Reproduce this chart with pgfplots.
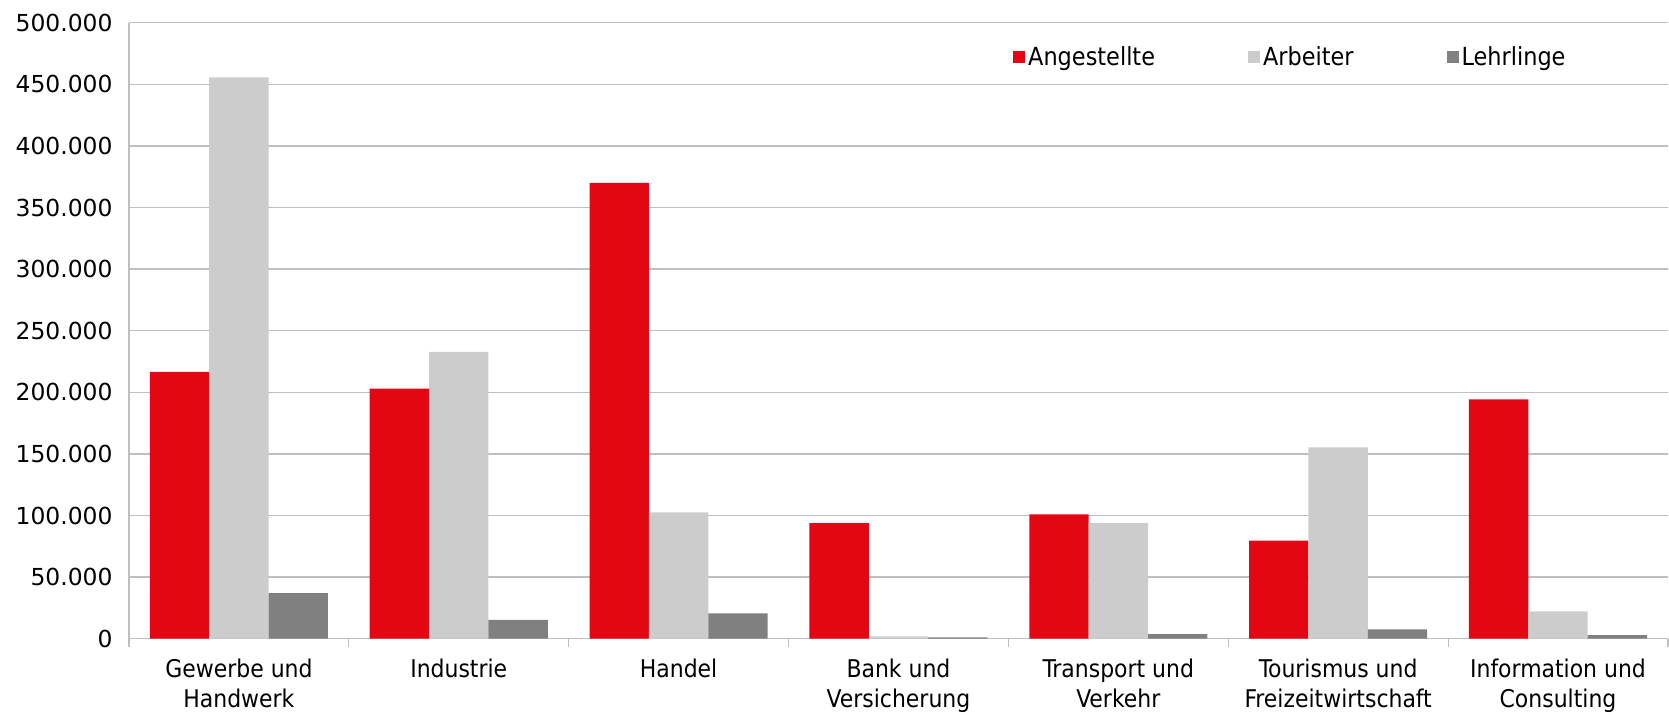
\documentclass[border=0pt]{standalone}
\usepackage{pgfplots}
\pgfplotsset{compat=1.18}
\usepackage{fontspec}
\setmainfont{DejaVu Sans Condensed}
\newfontfamily\widefont{DejaVu Sans}
\definecolor{cred}{HTML}{E30613}
\definecolor{clight}{HTML}{CCCCCC}
\definecolor{cdark}{HTML}{808080}
\definecolor{cgrid}{HTML}{BFBFBF}
\begin{document}
\begin{tikzpicture}
\useasboundingbox (-129bp,-76.3bp) rectangle ++(1669bp,715bp);
\begin{axis}[
  at={(0,0)}, anchor=south west,
  scale only axis,
  width=1539bp, height=616bp,
  ybar=0pt, bar width=0.27,
  xmin=-0.5, xmax=6.5,
  ymin=0, ymax=500000,
  ytick={0,50000,...,500000},
  scaled y ticks=false,
  axis x line*=bottom, axis y line*=left,
  axis line style={draw=cgrid, line width=1.5bp},
  ymajorgrids, grid style={draw=cgrid, line width=1.5bp},
  major tick length=0pt,
  xtick={0,...,6},
  xticklabels={{Gewerbe und\\Handwerk},{Industrie},{Handel},{Bank und\\Versicherung},{Transport und\\Verkehr},{Tourismus und\\Freizeitwirtschaft},{Information und\\Consulting}},
  extra x ticks={-0.5,0.5,...,6.5},
  extra x tick labels={},
  extra x tick style={major tick length=8bp, tick align=outside, tick style={draw=cgrid, line width=1.2bp}, grid=none},
  xticklabel style={align=center, font=\fontsize{24.5}{29.5}\selectfont, yshift=-17bp},
  yticklabel style={font=\widefont\fontsize{23.5}{27}\selectfont, xshift=-13bp},
  /pgf/number format/assume math mode=true,
  y tick label style={/pgf/number format/.cd, fixed, precision=0, 1000 sep={.}},
  legend columns=3,
  legend style={draw=none, fill=none, at={(0.5725,0.945)}, anchor=west,
    font=\fontsize{25}{29}\selectfont,
    /tikz/every even column/.append style={column sep=90bp},
    nodes={inner sep=3bp}},
  legend image code/.code={\fill[#1] (0bp,-6bp) rectangle (12bp,6bp);},
]
\addplot[fill=cred, draw=none] coordinates {(0,216500) (1,203000) (2,370000) (3,93800) (4,101000) (5,79700) (6,194300)};
\addplot[fill=clight, draw=none] coordinates {(0,455700) (1,232800) (2,102500) (3,1900) (4,93800) (5,155200) (6,22200)};
\addplot[fill=cdark, draw=none] coordinates {(0,37000) (1,15200) (2,20600) (3,1100) (4,3800) (5,7600) (6,3000)};
\legend{Angestellte,Arbeiter,Lehrlinge}
\end{axis}
\end{tikzpicture}
\end{document}
